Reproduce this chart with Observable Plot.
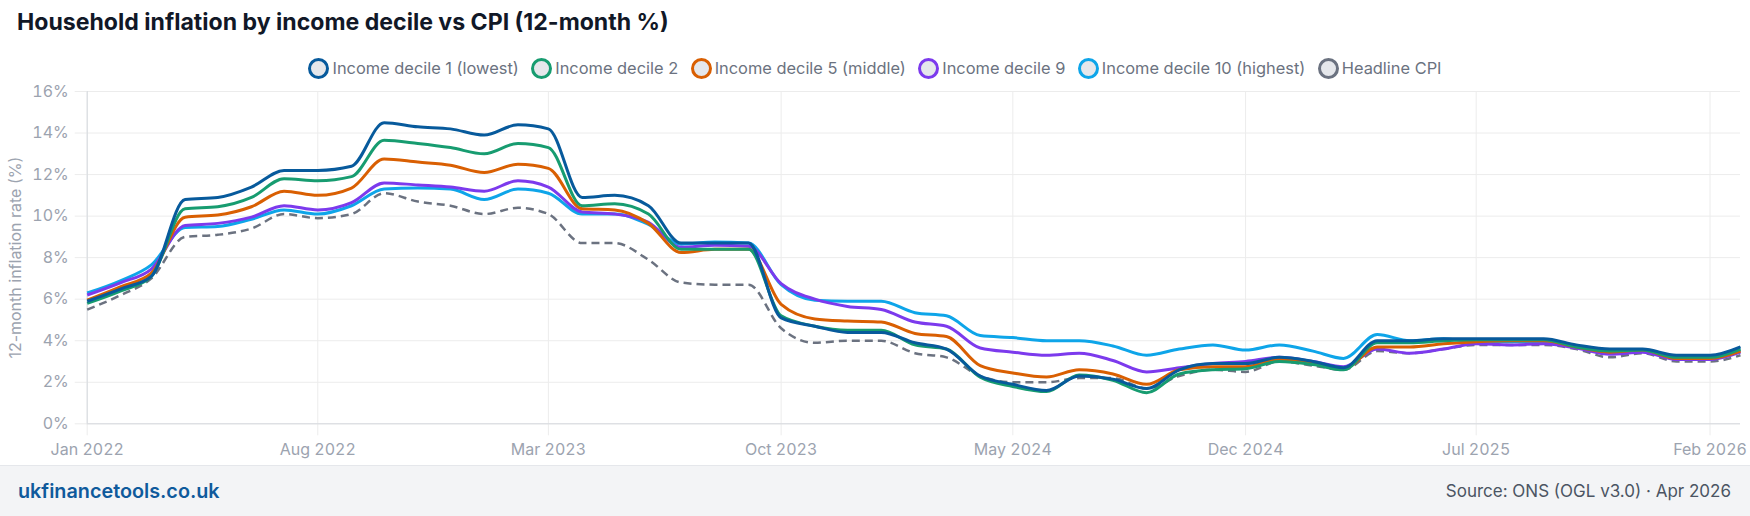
<!DOCTYPE html>
<html>
<head>
<meta charset="utf-8">
<script src="https://cdn.jsdelivr.net/npm/d3@7"></script>
<script src="https://cdn.jsdelivr.net/npm/@observablehq/plot@0.6"></script>
<style>
  html, body { margin: 0; padding: 0; background: #ffffff; }
  body { width: 1750px; height: 516px; position: relative; overflow: hidden; font-family: Inter, "Noto Sans", sans-serif; }
  #title { position: absolute; left: 17px; top: 9px; font-size: 23.1px; line-height: 26px; font-weight: 700; color: #111827; white-space: nowrap; }
  #legend { position: absolute; left: 0; top: 57px; width: 1750px; height: 22px; display: flex; justify-content: center; align-items: center; gap: 12.5px; font-size: 16.4px; color: #6b7280; }
  .item { display: flex; align-items: center; white-space: nowrap; }
  .swatch { box-sizing: border-box; width: 21px; height: 21px; border-radius: 50%; border: 3px solid; background: #e5e7eb; margin-right: 3px; }
  #chart { position: absolute; left: 0; top: 80px; }
  #footer { position: absolute; left: 0; top: 465px; width: 1750px; height: 51px; box-sizing: border-box; background: #f3f4f6; border-top: 1px solid #e5e7eb; display: flex; justify-content: space-between; align-items: center; padding: 0 19px 0 18px; }
  #site { font-size: 19.8px; font-weight: 600; color: #0f5a9c; }
  #source { font-size: 17px; color: #4b5563; }
</style>
</head>
<body>
<div id="title">Household inflation by income decile vs CPI (12-month %)</div>
<div id="legend"></div>
<div id="chart"></div>
<div id="footer"><span id="site">ukfinancetools.co.uk</span><span id="source">Source: ONS (OGL v3.0) · Apr 2026</span></div>
<script>
// Monthly 12-month inflation rates (%), Jan 2022 – Mar 2026
const decile1 = [5.9, 6.5, 7.1, 10.8, 10.9, 11.4, 12.2, 12.2, 12.4, 14.5, 14.3,
  14.2, 13.9, 14.4, 14.2, 10.9, 11.0, 10.5, 8.7, 8.7, 8.7,
  5.1, 4.7, 4.4, 4.4, 3.9, 3.6, 2.3, 1.9, 1.6, 2.3, 2.15,
  1.7, 2.6, 2.9, 2.9, 3.2, 3.0, 2.7, 4.0, 4.0, 4.1,
  4.1, 4.1, 4.1, 3.8, 3.6, 3.6, 3.3, 3.3, 3.7];
const decile2 = [5.8, 6.4, 7.1, 10.35, 10.45, 10.9, 11.8, 11.7, 11.9, 13.65, 13.5,
  13.3, 13.0, 13.5, 13.3, 10.5, 10.6, 10.1, 8.4, 8.4, 8.4,
  5.2, 4.7, 4.5, 4.5, 3.8, 3.6, 2.25, 1.8, 1.55, 2.35, 2.1,
  1.5, 2.4, 2.6, 2.65, 3.0, 2.85, 2.6, 3.9, 3.9, 4.0,
  4.05, 4.05, 4.05, 3.7, 3.5, 3.55, 3.2, 3.2, 3.6];
const decile5 = [5.95, 6.6, 7.25, 9.95, 10.05, 10.45, 11.2, 11.0, 11.35, 12.75, 12.6,
  12.45, 12.1, 12.5, 12.3, 10.35, 10.3, 9.65, 8.25, 8.4, 8.4,
  5.75, 5.05, 4.95, 4.9, 4.35, 4.2, 2.8, 2.45, 2.25, 2.6, 2.4,
  1.9, 2.6, 2.75, 2.75, 3.1, 2.9, 2.65, 3.7, 3.7, 3.85,
  3.95, 4.0, 4.0, 3.7, 3.45, 3.55, 3.15, 3.15, 3.5];
const decile9 = [6.2, 6.8, 7.45, 9.55, 9.65, 9.95, 10.5, 10.3, 10.65, 11.6, 11.5,
  11.4, 11.2, 11.7, 11.4, 10.2, 10.1, 9.7, 8.5, 8.6, 8.55,
  6.75, 6.0, 5.65, 5.5, 4.9, 4.7, 3.65, 3.45, 3.3, 3.4, 3.05,
  2.5, 2.7, 2.9, 3.0, 3.2, 3.0, 2.75, 3.6, 3.4, 3.6,
  3.85, 3.8, 3.85, 3.65, 3.35, 3.45, 3.1, 3.1, 3.45];
const decile10 = [6.3, 6.9, 7.65, 9.45, 9.5, 9.85, 10.3, 10.1, 10.5, 11.3, 11.35,
  11.3, 10.8, 11.3, 11.1, 10.1, 10.1, 9.6, 8.65, 8.75, 8.7,
  6.7, 5.95, 5.9, 5.9, 5.35, 5.2, 4.25, 4.15, 4.0, 4.0, 3.75,
  3.3, 3.6, 3.8, 3.55, 3.8, 3.5, 3.15, 4.3, 4.0, 4.1,
  3.95, 3.95, 3.95, 3.7, 3.5, 3.55, 3.2, 3.2, 3.55];
const headlineCPI = [5.5, 6.2, 7.0, 9.0, 9.1, 9.4, 10.1, 9.9, 10.1, 11.1, 10.7, 10.5,
  10.1, 10.4, 10.1, 8.7, 8.7, 7.9, 6.8, 6.7, 6.7, 4.6, 3.9, 4.0,
  4.0, 3.4, 3.2, 2.3, 2.0, 2.0, 2.2, 2.2, 1.7, 2.3, 2.6, 2.5,
  3.0, 2.8, 2.6, 3.5, 3.4, 3.6, 3.8, 3.8, 3.8, 3.6, 3.2, 3.4,
  3.0, 3.0, 3.3];

const seriesNames = ["Income decile 1 (lowest)", "Income decile 2", "Income decile 5 (middle)",
  "Income decile 9", "Income decile 10 (highest)", "Headline CPI"];
const seriesValues = [decile1, decile2, decile5, decile9, decile10, headlineCPI];

const xTickLabels = ["Jan 2022", "Aug 2022", "Mar 2023", "Oct 2023", "May 2024", "Dec 2024", "Jul 2025", "Feb 2026"];
const yTicks = [0, 2, 4, 6, 8, 10, 12, 14, 16];

// Styling per series (same order as seriesNames)
const seriesColors = ["#075a9c", "#179c70", "#d95f02", "#7c3aed", "#0ea5e9", "#6b7280"];
const seriesDash = [null, null, null, null, null, "8,5"];
const seriesWidth = [3, 3, 3, 3, 3, 2.5];

const parseMonth = d3.utcParse("%b %Y");
const xTicks = xTickLabels.map(parseMonth);
const months = d3.utcMonths(Date.UTC(2022, 0, 1), Date.UTC(2026, 3, 1));

const rows = seriesNames.map((name, k) =>
  seriesValues[k].map((v, i) => ({date: months[i], value: v, series: name})));

// Legend
const legend = document.getElementById("legend");
seriesNames.forEach((name, k) => {
  const item = document.createElement("div");
  item.className = "item";
  const sw = document.createElement("span");
  sw.className = "swatch";
  sw.style.borderColor = seriesColors[k];
  const label = document.createElement("span");
  label.textContent = name;
  item.append(sw, label);
  legend.append(item);
});

const gridColor = "#ececec";
const axisColor = "#d6d9de";
const textColor = "#9ca3af";

// First series is drawn last so it sits on top
const lineMarks = seriesNames.map((name, k) => Plot.line(rows[k], {
  x: "date", y: "value",
  stroke: seriesColors[k], strokeWidth: seriesWidth[k],
  strokeDasharray: seriesDash[k] ?? undefined,
  curve: "monotone-x", strokeLinejoin: "round", strokeLinecap: "butt"
})).reverse();

const chart = Plot.plot({
  width: 1750,
  height: 385,
  marginLeft: 86.7,
  marginRight: 10,
  marginTop: 11,
  marginBottom: 41.7,
  style: {fontFamily: "Inter, 'Noto Sans', sans-serif", fontSize: "16px", color: textColor, background: "transparent", overflow: "visible"},
  x: {type: "utc", domain: [months[0], months[months.length - 1]]},
  y: {domain: [0, 16]},
  marks: [
    Plot.gridY(yTicks, {stroke: gridColor, strokeOpacity: 1}),
    Plot.gridX(xTicks, {stroke: gridColor, strokeOpacity: 1}),
    Plot.axisY(yTicks, {tickSize: 12, tickPadding: 6.4, stroke: gridColor, fill: textColor,
      tickFormat: d => d + "%", label: null}),
    Plot.axisX(xTicks, {tickSize: 12, tickPadding: 8, stroke: gridColor, fill: textColor,
      tickFormat: d3.utcFormat("%b %Y"), label: null}),
    Plot.ruleY([0], {stroke: axisColor}),
    Plot.ruleX([months[0]], {stroke: axisColor}),
    Plot.text(["12-month inflation rate (%)"], {frameAnchor: "left", rotate: -90, dx: -71.2,
      textAnchor: "middle", lineAnchor: "middle", fill: textColor, fontSize: "16px"}),
    ...lineMarks
  ]
});
document.getElementById("chart").append(chart);
</script>
</body>
</html>
